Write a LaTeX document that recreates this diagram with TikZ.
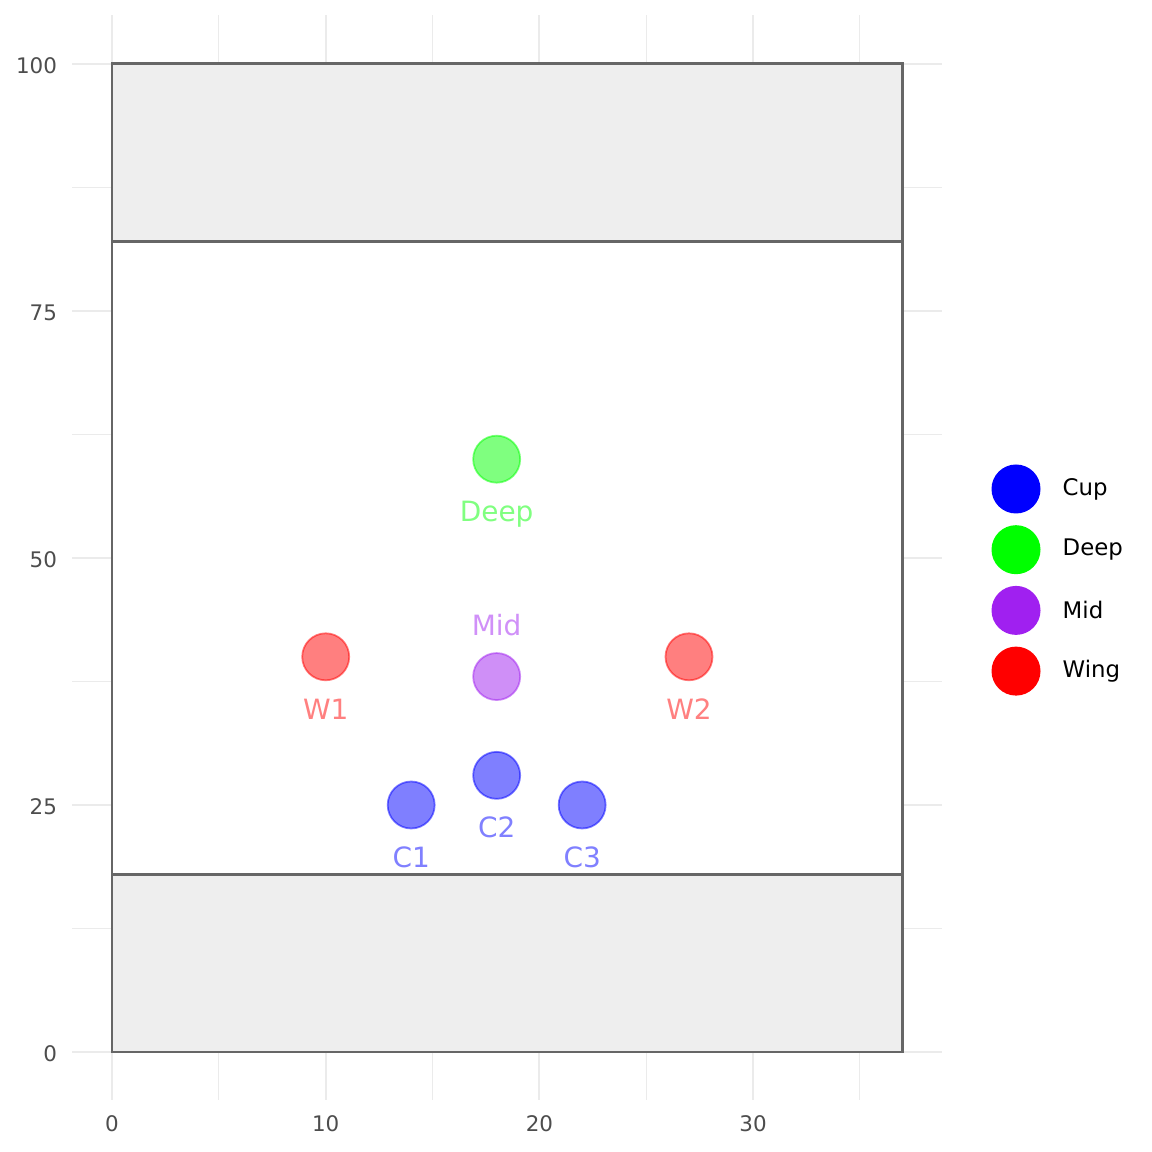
\documentclass[tikz,border=0pt]{standalone}
\usepackage{fontspec}
\setmainfont{DejaVu Sans}
\usepackage{tikz}
\usetikzlibrary{positioning}
\definecolor{cupc}{HTML}{0000FF}
\definecolor{deepc}{HTML}{00FF00}
\definecolor{midc}{HTML}{A020F0}
\definecolor{wingc}{HTML}{FF0000}
\definecolor{gridc}{HTML}{EBEBEB}
\definecolor{linec}{HTML}{666666}
\definecolor{zonec}{HTML}{EEEEEE}
\definecolor{axisc}{HTML}{4D4D4D}

\begin{document}
\begin{tikzpicture}
\useasboundingbox (0,0) rectangle (23.04,23.04);
\tikzstyle{P}=[circle,draw,fill,fill opacity=0.5,draw opacity=0.5,minimum size=0.94cm,inner sep=0pt,line width=1pt]
\tikzstyle{L}=[inner sep=0pt,anchor=base,yshift=-0.26cm,font=\fontsize{15.9}{18}\selectfont]
\tikzstyle{K}=[circle,minimum size=0.98cm,inner sep=0pt]
\tikzstyle{T}=[inner sep=0pt,font=\fontsize{13}{15}\selectfont]
\tikzstyle{A}=[inner sep=0pt,text=axisc,font=\fontsize{12.2}{14}\selectfont]
\begin{scope}[shift={(2.24cm,2.0cm)},x=0.4274cm,y=0.1976cm]
% grid
\foreach \i in {5,15,25,35} \draw[gridc,line width=0.6pt] (\i,-4.86) -- (\i,104.96);
\foreach \j in {12.5,37.5,62.5,87.5} \draw[gridc,line width=0.6pt] (-1.87,\j) -- (38.84,\j);
\foreach \i in {0,10,20,30} \draw[gridc,line width=1.1pt] (\i,-4.86) -- (\i,104.96);
\foreach \j in {0,25,50,75,100} \draw[gridc,line width=1.1pt] (-1.87,\j) -- (38.84,\j);
\foreach \i in {0,10,20,30} \node[A,anchor=base] (xl\i) at (\i,-8.07) {\i};
\foreach \j in {0,25,50,75,100} \node[A,anchor=base east,yshift=-0.186cm] (yl\j) at (-2.56,\j) {\j};
% field
\fill[white] (0,0) rectangle (37,100);
\draw[linec,fill=zonec,line width=1.7pt] (0,0) rectangle (37,18);
\draw[linec,fill=zonec,line width=1.7pt] (0,82) rectangle (37,100);
\draw[linec,line width=1.7pt] (0,0) rectangle (37,100);
% players
\node[P,cupc] (c1) at (14,25) {};
\node[P,cupc] (c2) at (18,28) {};
\node[P,cupc] (c3) at (22,25) {};
\node[P,midc] (mid) at (18,38) {};
\node[P,wingc] (w1) at (10,40) {};
\node[P,wingc] (w2) at (27,40) {};
\node[P,deepc] (deep) at (18,60) {};
\node[L,text=cupc!50] (c1l) at (14,20) {C1};
\node[L,text=cupc!50] (c2l) at (18,23) {C2};
\node[L,text=cupc!50] (c3l) at (22,20) {C3};
\node[L,text=midc!50,yshift=0.1cm] (midl) at (18,43) {Mid};
\node[L,text=wingc!50] (w1l) at (10,35) {W1};
\node[L,text=wingc!50] (w2l) at (27,35) {W2};
\node[L,text=deepc!50] (deepl) at (18,55) {Deep};
\end{scope}
% legend
\node[K,fill=cupc] (kcup) at (20.32,13.26) {};
\node[K,fill=deepc,below=0.22cm of kcup] (kdeep) {};
\node[K,fill=midc,below=0.22cm of kdeep] (kmid) {};
\node[K,fill=wingc,below=0.22cm of kmid] (kwing) {};
\node[T,right=0.43cm of kcup] (tcup) {Cup};
\node[T,right=0.43cm of kdeep] (tdeep) {Deep};
\node[T,right=0.43cm of kmid] (tmid) {Mid};
\node[T,right=0.43cm of kwing] (twing) {Wing};
\end{tikzpicture}
\end{document}
